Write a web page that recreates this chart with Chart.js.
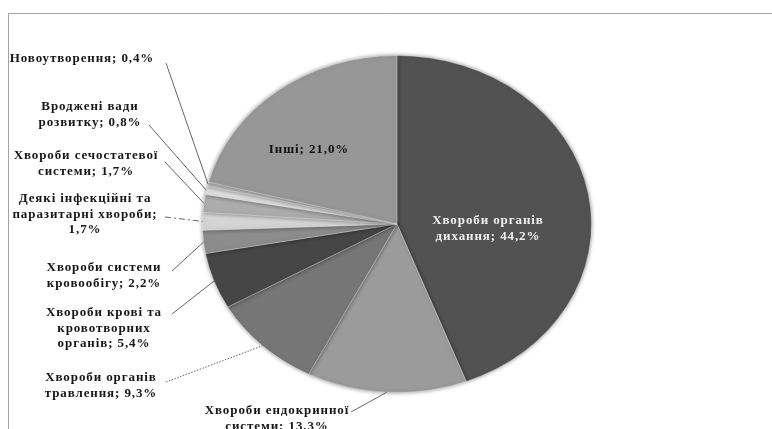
<!DOCTYPE html>
<html>
<head>
<meta charset="utf-8">
<script src="https://cdn.jsdelivr.net/npm/chart.js@4/dist/chart.umd.min.js"></script>
<style>
  html, body { margin: 0; padding: 0; background: #fff; }
  #wrap { width: 772px; height: 429px; position: relative; }
</style>
</head>
<body>
<div id="wrap"><canvas id="c" width="772" height="429"></canvas></div>
<script>
// Structure of morbidity by disease class (share, %)
const categories = [
  'Хвороби органів дихання',
  'Хвороби ендокринної системи',
  'Хвороби органів травлення',
  'Хвороби крові та кровотворних органів',
  'Хвороби системи кровообігу',
  'Деякі інфекційні та паразитарні хвороби',
  'Хвороби сечостатевої системи',
  'Вроджені вади розвитку',
  'Новоутворення',
  'Інші'
];
const shares = [44.2, 13.3, 9.3, 5.4, 2.2, 1.7, 1.7, 0.8, 0.4, 21.0];

// Label text with line breaks; {v} is replaced by the formatted share
const labelTemplates = [
  'Хвороби органів\nдихання; {v}',
  'Хвороби ендокринної\nсистеми; {v}',
  'Хвороби органів\nтравлення; {v}',
  'Хвороби крові та\nкровотворних\nорганів; {v}',
  'Хвороби системи\nкровообігу; {v}',
  'Деякі інфекційні та\nпаразитарні хвороби;\n{v}',
  'Хвороби сечостатевої\nсистеми; {v}',
  'Вроджені вади\nрозвитку; {v}',
  'Новоутворення; {v}',
  'Інші; {v}'
];

const sliceColors = ['#525252', '#9b9b9b', '#767676', '#464646', '#8c8c8c',
                     '#d4d4d4', '#acacac', '#dedede', '#bdbdbd', '#979797'];

// Layout of the labels: text centre of first line, and where the leader starts
const layout = [
  { x: 488, y: 221, inside: true, color: '#f0f0f0' },
  { x: 277, y: 411, lead: [351, 412], style: 'solid' },
  { x: 101, y: 378, lead: [166, 382], style: 'dotted' },
  { x: 104, y: 313, lead: [172, 314], style: 'solid' },
  { x: 104, y: 268, lead: [172, 271], style: 'solid' },
  { x: 85,  y: 199, lead: [165, 217], style: 'dashed' },
  { x: 86,  y: 156, lead: [165, 162], style: 'solid' },
  { x: 90,  y: 107, lead: [149, 125], style: 'solid' },
  { x: 82,  y: 59,  lead: [166, 63],  style: 'solid' },
  { x: 309, y: 150, inside: true, color: '#111' }
];

const TILT = 169 / 195;   // vertical squash of the pie (tilted look)
const LINE_H = 15.5;

function fmt(v) { return v.toFixed(1).replace('.', ',') + '%'; }

const tiltPlugin = {
  id: 'tilt',
  beforeDatasetsDraw(chart) {
    const arc = chart.getDatasetMeta(0).data[0];
    const ctx = chart.ctx;
    ctx.save();
    ctx.translate(0, arc.y);
    ctx.scale(1, TILT);
    ctx.translate(0, -arc.y);
    ctx.shadowColor = 'rgba(0,0,0,0.45)';
    ctx.shadowBlur = 4;
  },
  afterDatasetsDraw(chart) {
    chart.ctx.restore();
  }
};

const labelPlugin = {
  id: 'labels',
  afterDraw(chart) {
    const ctx = chart.ctx;
    const meta = chart.getDatasetMeta(0);
    const values = chart.data.datasets[0].data;

    // frame
    ctx.save();
    ctx.strokeStyle = '#a3a3a3';
    ctx.lineWidth = 1;
    ctx.beginPath();
    ctx.moveTo(8.5, 429);
    ctx.lineTo(8.5, 13.5);
    ctx.lineTo(772, 13.5);
    ctx.stroke();
    ctx.restore();

    ctx.save();
    ctx.font = 'bold 13px "Liberation Serif", "Times New Roman", serif';
    ctx.letterSpacing = '0.9px';
    ctx.textAlign = 'center';
    ctx.textBaseline = 'middle';
    meta.data.forEach((arc, i) => {
      const L = layout[i];
      const mid = (arc.startAngle + arc.endAngle) / 2;
      const r = arc.outerRadius;
      if (L.lead) {
        const ex = arc.x + r * Math.cos(mid);
        const ey = arc.y + r * Math.sin(mid) * TILT;
        ctx.save();
        ctx.strokeStyle = '#555';
        ctx.lineWidth = 0.9;
        if (L.style === 'dotted') ctx.setLineDash([1.5, 1.5]);
        if (L.style === 'dashed') ctx.setLineDash([6, 3, 2, 3]);
        ctx.beginPath();
        ctx.moveTo(L.lead[0], L.lead[1]);
        ctx.lineTo(ex, ey);
        ctx.stroke();
        ctx.restore();
      }
      const lines = labelTemplates[i].replace('{v}', fmt(values[i])).split('\n');
      ctx.fillStyle = L.color || '#161616';
      lines.forEach((t, k) => ctx.fillText(t, L.x, L.y + k * LINE_H));
    });
    ctx.restore();
  }
};

new Chart(document.getElementById('c'), {
  type: 'pie',
  data: {
    labels: categories,
    datasets: [{
      data: shares,
      backgroundColor: sliceColors,
      borderColor: 'rgba(255,255,255,0.35)',
      borderWidth: 1
    }]
  },
  options: {
    responsive: false,
    animation: false,
    events: [],
    layout: { padding: { left: 202, right: 180, top: 29, bottom: 10 } },
    plugins: { legend: { display: false }, tooltip: { enabled: false } }
  },
  plugins: [tiltPlugin, labelPlugin]
});
</script>
</body>
</html>
